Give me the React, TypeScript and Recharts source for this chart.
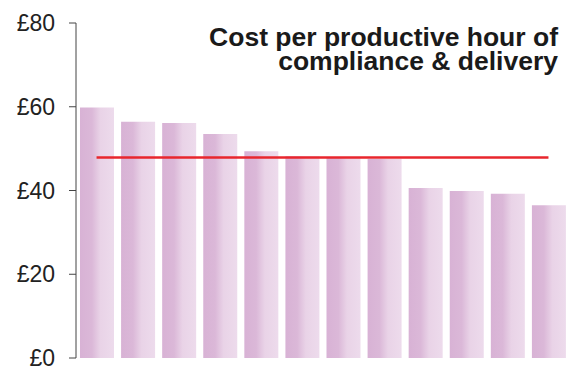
import React from 'react';
import { ComposedChart, Bar, Line, XAxis, YAxis } from 'recharts';

const categories = ['A', 'B', 'C', 'D', 'E', 'F', 'G', 'H', 'I', 'J', 'K', 'L'];
const costs = [59.8, 56.4, 56.1, 53.5, 49.4, 48.2, 47.8, 47.5, 40.6, 39.9, 39.2, 36.5];
const averageCost = 47.9;
const yTicks = [0, 20, 40, 60, 80];
const titleLines = ['Cost per productive hour of', 'compliance & delivery'];

const data = categories.map((c, i) => ({ name: c, cost: costs[i], avg: averageCost }));

const FONT = '"Liberation Sans", Arial, sans-serif';

export default function App() {
  return (
    <div style={{ position: 'absolute', left: 0, top: 0, width: 566, height: 378, overflow: 'hidden', fontFamily: FONT }}>
      <ComposedChart width={569} height={378} data={data} margin={{ top: 23, right: 0, bottom: 20, left: 0 }} barSize={34}>
        <defs>
          <linearGradient id="barGrad" x1="0" y1="0" x2="1" y2="0">
            <stop offset="0" stopColor="#d8b2d5" />
            <stop offset="0.35" stopColor="#dbb8d8" />
            <stop offset="0.6" stopColor="#e9d3e7" />
            <stop offset="1" stopColor="#eddbec" />
          </linearGradient>
        </defs>
        <XAxis dataKey="name" hide />
        <YAxis
          domain={[0, 80]}
          ticks={yTicks}
          width={76}
          tickFormatter={(v) => `£${v}`}
          tick={{ fill: '#222', fontSize: 23, fontFamily: FONT }}
          tickSize={7}
          tickMargin={14}
          stroke="#444"
          axisLine={{ stroke: '#444' }}
          tickLine={{ stroke: '#444' }}
        />
        <Bar dataKey="cost" fill="url(#barGrad)" isAnimationActive={false} />
        <Line dataKey="avg" type="linear" stroke="#e8262d" strokeWidth={2.5} dot={false} activeDot={false} isAnimationActive={false} />
      </ComposedChart>
      <div style={{ position: 'absolute', right: 8, top: 25, textAlign: 'right', fontWeight: 'bold', fontSize: 26.5, lineHeight: '24px', color: '#1a1a1a', whiteSpace: 'nowrap' }}>
        {titleLines.map((t) => (
          <div key={t}>{t}</div>
        ))}
      </div>
    </div>
  );
}
